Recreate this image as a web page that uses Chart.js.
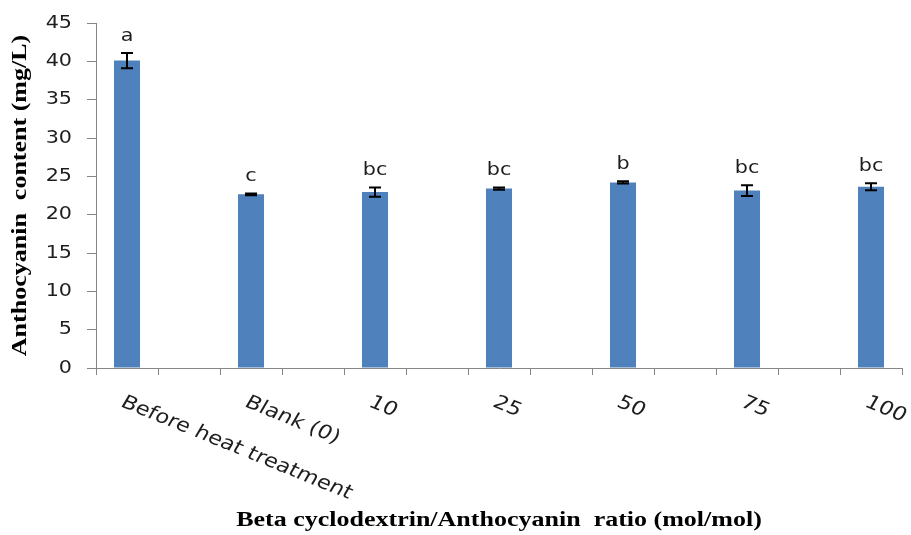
<!DOCTYPE html>
<html>
<head>
<meta charset="utf-8">
<script src="https://cdn.jsdelivr.net/npm/chart.js@4/dist/chart.umd.min.js"></script>
<style>
  html, body { margin: 0; padding: 0; background: #fff; }
  #wrap { width: 911px; height: 535px; }
</style>
</head>
<body>
<div id="wrap"><canvas id="barChart"></canvas></div>
<script>
const categories = ['Before heat treatment', 'Blank (0)', '10', '25', '50', '75', '100'];
const contents = [40.1, 22.65, 22.95, 23.4, 24.2, 23.15, 23.65];
const errors = [1.0, 0.12, 0.6, 0.15, 0.15, 0.7, 0.45];
const letters = ['a', 'c', 'bc', 'bc', 'b', 'bc', 'bc'];
const yTicks = [0, 5, 10, 15, 20, 25, 30, 35, 40, 45];
const xTitle = 'Beta cyclodextrin/Anthocyanin  ratio (mol/mol)';
const yTitle = 'Anthocyanin  content (mg/L)';

// each bar sits in its own slot with an empty slot after it (like the excel sheet)
const slotLabels = [];
const slotValues = [];
const slotIndex = [];
categories.forEach((c, i) => {
    slotIndex.push(slotLabels.length);
    slotLabels.push(c);
    slotValues.push(contents[i]);
    if (i < categories.length - 1) {
        slotLabels.push('');
        slotValues.push(null);
    }
});

const axisGray = '#868686';
const textColor = '#1e1e1e';
const sansFont = '"DejaVu Sans"';
const serifBold = 'bold 20px "Liberation Serif"';

// text in the original picture is drawn wide, so squeeze it out a bit
const wideText = (ctx, text, x, y, sx, angle) => {
    ctx.save();
    ctx.translate(x, y);
    if (angle) ctx.rotate(angle);
    ctx.scale(sx, 1);
    ctx.fillText(text, 0, 0);
    ctx.restore();
};

const errorBars = {
    id: 'errorBars',
    afterDatasetsDraw(chart) {
        const ctx = chart.ctx;
        const y = chart.scales.y;
        const meta = chart.getDatasetMeta(0);
        ctx.save();
        ctx.strokeStyle = '#000';
        ctx.lineWidth = 2;
        ctx.fillStyle = textColor;
        ctx.font = '18px ' + sansFont;
        ctx.textAlign = 'center';
        ctx.textBaseline = 'alphabetic';
        slotIndex.forEach((s, i) => {
            const bar = meta.data[s];
            const top = y.getPixelForValue(contents[i] + errors[i]);
            const bot = y.getPixelForValue(contents[i] - errors[i]);
            ctx.beginPath();
            ctx.moveTo(bar.x, top); ctx.lineTo(bar.x, bot);
            ctx.moveTo(bar.x - 6, top); ctx.lineTo(bar.x + 6, top);
            ctx.moveTo(bar.x - 6, bot); ctx.lineTo(bar.x + 6, bot);
            ctx.stroke();
            wideText(ctx, letters[i], bar.x, top - 12, 1.15);
        });
        ctx.restore();
    }
};

const axisText = {
    id: 'axisText',
    afterDraw(chart) {
        const ctx = chart.ctx;
        const x = chart.scales.x;
        const y = chart.scales.y;
        const area = chart.chartArea;
        ctx.save();
        ctx.fillStyle = textColor;

        // y tick labels
        ctx.font = '18px ' + sansFont;
        ctx.textAlign = 'right';
        ctx.textBaseline = 'middle';
        yTicks.forEach(v => wideText(ctx, String(v), y.right - 24, y.getPixelForValue(v), 1.15));

        // slanted category labels, starting at the slot centre and running down-right
        ctx.font = '19px ' + sansFont;
        ctx.textAlign = 'left';
        ctx.textBaseline = 'top';
        slotIndex.forEach((s, i) => {
            ctx.save();
            ctx.translate(x.getPixelForValue(s), x.top + 25);
            ctx.scale(1.2, 1);
            ctx.rotate(26 * Math.PI / 180);
            ctx.fillText(categories[i], 0, 0);
            ctx.restore();
        });

        // axis titles
        ctx.fillStyle = '#000';
        ctx.font = serifBold;
        ctx.textAlign = 'center';
        ctx.textBaseline = 'alphabetic';
        wideText(ctx, xTitle, (area.left + area.right) / 2, 526, 1.3);
        wideText(ctx, yTitle, 26, (area.top + area.bottom) / 2, 1.3, -Math.PI / 2);
        ctx.restore();
    }
};

const data = {
    labels: slotLabels,
    datasets: [{
        data: slotValues,
        backgroundColor: '#4F81BD',
        barPercentage: 0.42,
        categoryPercentage: 1.0
    }]
};

const options = {
    responsive: true,
    maintainAspectRatio: false,
    animation: false,
    layout: { padding: { top: 23, right: 9, left: 0, bottom: 0 } },
    plugins: { legend: { display: false }, tooltip: { enabled: false } },
    scales: {
        x: {
            grid: { offset: true, drawOnChartArea: false, color: axisGray, tickLength: 7 },
            border: { color: axisGray, width: 1 },
            ticks: { display: false },
            afterFit: (scale) => { scale.height = 167; }
        },
        y: {
            min: 0,
            max: 45,
            afterBuildTicks: (scale) => { scale.ticks = yTicks.map(v => ({ value: v })); },
            grid: { drawOnChartArea: false, color: axisGray, tickLength: 9 },
            border: { color: axisGray, width: 1 },
            ticks: { display: false },
            afterFit: (scale) => { scale.width = 96; }
        }
    }
};

new Chart('barChart', { type: 'bar', data, options, plugins: [errorBars, axisText] });
</script>
</body>
</html>
